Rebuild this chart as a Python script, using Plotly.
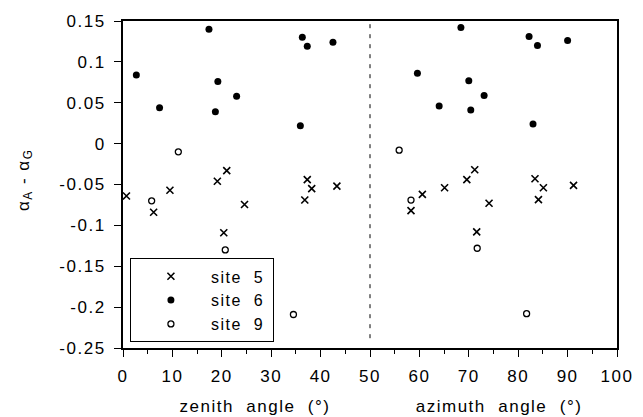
import plotly.graph_objects as go

# Albedo difference (alpha_A - alpha_G) versus zenith angle (left half)
# and azimuth angle (right half) for three sites.
zen_site5 = [0.7, 6.2, 9.5, 19.1, 20.4, 21.0, 24.6, 36.8, 37.3, 38.2, 43.3]
zen_diff5 = [-0.064, -0.084, -0.057, -0.046, -0.109, -0.033, -0.0745, -0.069, -0.044, -0.055, -0.052]

zen_site6 = [2.7, 7.4, 17.4, 18.7, 19.2, 23.0, 35.9, 36.3, 37.3, 42.5]
zen_diff6 = [0.084, 0.044, 0.140, 0.039, 0.076, 0.058, 0.022, 0.130, 0.119, 0.124]

zen_site9 = [5.8, 11.2, 20.7, 34.5]
zen_diff9 = [-0.070, -0.010, -0.130, -0.209]

azi_site5 = [58.3, 60.6, 65.1, 69.6, 71.2, 71.6, 74.1, 83.4, 84.1, 85.1, 91.2]
azi_diff5 = [-0.082, -0.062, -0.054, -0.044, -0.032, -0.108, -0.073, -0.043, -0.0685, -0.054, -0.051]

azi_site6 = [59.6, 64.0, 68.4, 70.0, 70.4, 73.1, 82.2, 83.0, 83.9, 90.0]
azi_diff6 = [0.086, 0.046, 0.142, 0.077, 0.041, 0.059, 0.131, 0.024, 0.120, 0.126]

azi_site9 = [55.9, 58.3, 71.7, 81.7]
azi_diff9 = [-0.008, -0.069, -0.128, -0.208]

y_tickvals = [0.15, 0.1, 0.05, 0, -0.05, -0.1, -0.15, -0.2, -0.25]
y_ticktext = ["0.15", "0.1", "0.05", "0", "-0.05", "-0.1", "-0.15", "-0.2", "-0.25"]
x_tickvals = [0, 10, 20, 30, 40, 50, 60, 70, 80, 90, 100]
x_ticktext = ["0", "10", "20", "30", "40", "50", "60", "70", "80", "90", "100"]

FONT = "Liberation Sans, Arial, sans-serif"
NB = "\u00a0"

fig = go.Figure()

sites = [
    ("site" + NB * 2 + "5", zen_site5 + azi_site5, zen_diff5 + azi_diff5,
     dict(symbol="x-thin-open", size=7, color="black", line=dict(width=1.6, color="black"))),
    ("site" + NB * 2 + "6", zen_site6 + azi_site6, zen_diff6 + azi_diff6,
     dict(symbol="circle", size=7, color="black", line=dict(width=0))),
    ("site" + NB * 2 + "9", zen_site9 + azi_site9, zen_diff9 + azi_diff9,
     dict(symbol="circle-open", size=6, color="black", line=dict(width=1.3, color="black"))),
]
for name, xs, ys, marker in sites:
    fig.add_trace(go.Scatter(x=xs, y=ys, mode="markers", name=name + NB * 3,
                             marker=marker))

# dashed separator between the zenith and azimuth panels
fig.add_shape(type="line", x0=50, x1=50, xref="x", y0=0.03, y1=1, yref="paper",
              line=dict(color="black", width=1, dash="4px,6px"))

fig.update_layout(
    width=643, height=417,
    margin=dict(l=123, r=19, t=16, b=69),
    paper_bgcolor="white", plot_bgcolor="white",
    font=dict(family=FONT, size=17, color="black"),
    showlegend=True,
    legend=dict(x=0.014, y=0.274, xanchor="left", yanchor="top",
                bordercolor="black", borderwidth=1, bgcolor="white",
                font=dict(size=16), itemwidth=70, tracegroupgap=0),
    xaxis=dict(range=[0, 100], tickvals=x_tickvals, ticktext=x_ticktext,
               showgrid=False, zeroline=False, showline=True, linewidth=2,
               linecolor="black", mirror=True, ticks="outside", ticklen=7,
               tickwidth=1.2, tickcolor="black", ticklabelstandoff=5,
               minor=dict(dtick=5, ticks="outside", ticklen=4, tickwidth=1, tickcolor="black"),
               tickfont=dict(size=17)),
    yaxis=dict(range=[-0.25, 0.15], tickvals=y_tickvals, ticktext=y_ticktext,
               showgrid=False, zeroline=False, showline=True, linewidth=2,
               linecolor="black", mirror=True, ticks="outside", ticklen=7,
               tickwidth=1.2, tickcolor="black", ticklabelstandoff=5,
               tickfont=dict(size=17)),
    annotations=[
        dict(text="\u03b1<sub>A</sub>" + NB + "-" + NB + "\u03b1<sub>G</sub>",
             xref="paper", yref="paper", x=-0.2, y=0.515, textangle=-90,
             showarrow=False, font=dict(size=17), xanchor="center", yanchor="middle"),
        dict(text="zenith" + NB * 2 + "angle" + NB * 2 + "(\u00b0)", xref="x", yref="paper",
             x=26.7, y=-0.178, showarrow=False, font=dict(size=17),
             xanchor="center", yanchor="middle"),
        dict(text="azimuth" + NB * 2 + "angle" + NB * 2 + "(\u00b0)", xref="x", yref="paper",
             x=76.2, y=-0.178, showarrow=False, font=dict(size=17),
             xanchor="center", yanchor="middle"),
    ],
)

# wider tracking on all labels, like the typeset original
spacing_js = """
document.querySelectorAll('.main-svg text').forEach(function (t) {
    t.setAttribute('letter-spacing', '1.5px');
});
"""

fig.write_html("out.html", post_script=spacing_js)
